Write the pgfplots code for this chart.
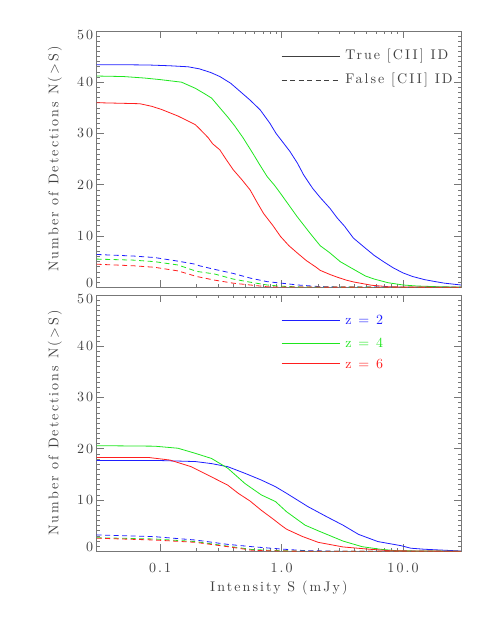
\documentclass[border=0pt]{standalone}
\usepackage{fontspec}
\setmainfont{lmroman10-regular.otf}[LetterSpace=15]
\usepackage{pgfplots}
\pgfplotsset{compat=1.18}
\definecolor{txt}{HTML}{404040}
\definecolor{frame}{HTML}{777777}
\definecolor{zb}{HTML}{1E1EFF}
\definecolor{zg}{HTML}{1EE61E}
\definecolor{zr}{HTML}{FF1E1E}
\tikzset{fls/.style={dash pattern=on 5pt off 3.5pt},
  key/.style={anchor=west, inner sep=0pt, xshift=5.7pt}}

\pgfplotsset{/pgf/number format/assume math mode=true}

\begin{document}
\begin{tikzpicture}[font=\fontsize{14}{16}\selectfont]
\path[use as bounding box] (0,0) rectangle (485pt,627pt);

% top panel: true and false identifications
\begin{axis}[at={(96.7pt,339.7pt)}, anchor=south west,
  scale only axis, width=364.3pt, height=256.4pt,
  xmode=log, xmin=0.03, xmax=30, ymin=0, ymax=50,
  ytick={0,10,...,50}, minor y tick num=9,
  yticklabels={\raisebox{4pt}[0.65em][0pt]{0},10,20,30,40,\raisebox{-4pt}[0.65em][0pt]{50}},
  xtick={0.1,1,10}, xticklabels=\empty,
  tick align=inside, tick pos=both, ticklabel pos=left,
  major tick length=7pt, minor tick length=3.5pt,
  axis line style={frame, line width=0.8pt},
  every tick/.style={frame, line width=0.6pt},
  tick label style={text=txt},
  label style={text=txt},
  ylabel={Number of Detections N(>S)},
  ylabel style={at={(axis description cs:-0.1145,0.5)}, anchor=center}]

\addplot[zb, line width=0.8pt] coordinates {(0.03,43.4)(0.05,43.4)(0.08,43.35)(0.12,43.2)(0.17,43.0)(0.21,42.6)(0.26,41.9)(0.31,41.1)(0.38,39.8)(0.455,38.2)(0.55,36.5)(0.666,34.6)(0.8,32.0)(0.9,30.0)(1.0,28.6)(1.17,26.5)(1.35,24.2)(1.52,21.9)(1.8,19.3)(2.08,17.5)(2.5,15.4)(2.85,13.6)(3.3,11.9)(3.9,9.6)(4.8,7.8)(5.8,6.2)(7.0,4.9)(8.3,3.8)(10,2.8)(12,2.1)(15,1.5)(18,1.15)(22,0.8)(30,0.45)};
\addplot[zg, line width=0.8pt] coordinates {(0.03,41.2)(0.05,41.1)(0.075,40.8)(0.1,40.5)(0.15,40.0)(0.195,38.8)(0.23,37.8)(0.265,36.9)(0.31,35.0)(0.36,33.2)(0.41,31.5)(0.48,29.2)(0.58,26.1)(0.66,23.9)(0.76,21.6)(0.88,19.8)(0.98,18.3)(1.15,16.0)(1.34,13.8)(1.72,10.5)(2.08,8.1)(2.47,6.8)(3.04,5.0)(3.6,4.0)(4.2,3.1)(4.9,2.2)(5.8,1.6)(7.5,0.9)(10,0.45)(13,0.25)(20,0.1)(30,0.05)};
\addplot[zr, line width=0.8pt] coordinates {(0.03,36.0)(0.068,35.8)(0.085,35.3)(0.102,34.7)(0.14,33.4)(0.195,31.7)(0.213,30.8)(0.248,29.2)(0.27,28.0)(0.31,26.8)(0.35,24.9)(0.4,22.9)(0.47,21.0)(0.55,19.0)(0.63,16.5)(0.71,14.4)(0.85,12.0)(0.98,9.9)(1.15,8.1)(1.36,6.6)(1.6,5.2)(1.9,4.0)(2.08,3.3)(2.5,2.5)(2.85,2.0)(3.4,1.4)(3.9,1.05)(5.5,0.4)(7.5,0.12)(10,0.05)(30,0)};
\addplot[zb, line width=0.8pt, fls] coordinates {(0.03,6.4)(0.06,6.1)(0.09,5.8)(0.14,5.1)(0.195,4.5)(0.21,4.2)(0.28,3.5)(0.4,2.7)(0.55,1.8)(0.76,1.1)(1.0,0.8)(1.36,0.45)(2,0.15)(3,0.05)(30,0)};
\addplot[zg, line width=0.8pt, fls] coordinates {(0.03,5.5)(0.06,5.3)(0.09,5.0)(0.14,4.35)(0.2,3.1)(0.28,2.6)(0.4,1.6)(0.55,1.0)(0.76,0.45)(1.0,0.2)(1.5,0.05)(30,0)};
\addplot[zr, line width=0.8pt, fls] coordinates {(0.03,4.5)(0.06,4.2)(0.09,3.9)(0.14,3.2)(0.2,2.1)(0.28,1.4)(0.4,0.8)(0.76,0.1)(1.0,0.05)(30,0)};

% key
\addplot[txt, line width=0.8pt] coordinates {(1,45.1)(3,45.1)};
\addplot[txt, line width=0.8pt, fls] coordinates {(1,40.4)(3,40.4)};
\addplot[white, draw opacity=0] coordinates {(1,45.1)(1.01,45.1)};
\node[key, text=txt] at (axis cs:3,45.1) {True [CII] ID};
\node[key, text=txt] at (axis cs:3,40.4) {False [CII] ID};
\end{axis}

% bottom panel: by redshift
\begin{axis}[at={(96.7pt,75.7pt)}, anchor=south west,
  scale only axis, width=364.3pt, height=256.4pt,
  xmode=log, xmin=0.03, xmax=30, ymin=0, ymax=50,
  ytick={0,10,...,50}, minor y tick num=9,
  yticklabels={\raisebox{4pt}[0.65em][0pt]{0},10,20,30,40,\raisebox{-4pt}[0.65em][0pt]{50}},
  xtick={0.1,1,10}, xticklabels={0.1,1.0,10.0},
  xticklabel style={yshift=-8pt},
  tick align=inside, tick pos=both, ticklabel pos=left,
  major tick length=7pt, minor tick length=3.5pt,
  axis line style={frame, line width=0.8pt},
  every tick/.style={frame, line width=0.6pt},
  tick label style={text=txt},
  label style={text=txt},
  ylabel={Number of Detections N(>S)},
  ylabel style={at={(axis description cs:-0.1145,0.5)}, anchor=center},
  xlabel={Intensity S (mJy)},
  xlabel style={at={(axis description cs:0.5,-0.145)}, anchor=center}]

\addplot[zb, line width=0.8pt] coordinates {(0.03,17.7)(0.1,17.7)(0.195,17.5)(0.265,17.1)(0.36,16.5)(0.5,15.2)(0.68,13.9)(0.89,12.6)(1.1,11.3)(1.65,8.7)(2.37,6.7)(3.2,5.1)(4.3,3.3)(6.2,1.9)(9.6,1.1)(11.6,0.6)(15,0.4)(30,0.05)};
\addplot[zg, line width=0.8pt] coordinates {(0.03,20.6)(0.09,20.5)(0.14,20.1)(0.195,19.1)(0.265,18.1)(0.36,16.2)(0.5,13.2)(0.68,11.0)(0.89,9.7)(1.1,7.7)(1.56,5.1)(2.0,4.0)(3.2,2.0)(4.6,0.9)(6.5,0.4)(9,0.1)(30,0)};
\addplot[zr, line width=0.8pt] coordinates {(0.03,18.3)(0.08,18.3)(0.12,17.8)(0.18,16.5)(0.265,14.5)(0.36,12.9)(0.44,11.3)(0.55,9.8)(0.68,8.0)(0.85,6.3)(1.0,5.0)(1.1,4.3)(1.48,2.9)(2.0,1.75)(3.2,0.85)(5.3,0.4)(8,0.1)(30,0)};
\addplot[zb, line width=0.8pt, fls] coordinates {(0.03,3.2)(0.09,2.85)(0.195,2.2)(0.36,1.35)(0.57,0.9)(0.98,0.45)(1.5,0.15)(3,0)(30,0)};
\addplot[zg, line width=0.8pt, fls] coordinates {(0.03,2.65)(0.09,2.4)(0.195,1.9)(0.36,1.0)(0.57,0.35)(1.0,0.1)(2,0)(30,0)};
\addplot[zr, line width=0.8pt, fls] coordinates {(0.03,2.55)(0.09,2.2)(0.195,1.75)(0.36,0.9)(0.57,0.2)(1.0,0.05)(2,0)(30,0)};

% key
\addplot[zb, line width=0.8pt] coordinates {(1,45.1)(3,45.1)};
\addplot[zg, line width=0.8pt] coordinates {(1,40.6)(3,40.6)};
\addplot[zr, line width=0.8pt] coordinates {(1,36.6)(3,36.6)};
\addplot[white, draw opacity=0] coordinates {(1,45.1)(1.01,45.1)};
\node[key, text=zb] at (axis cs:3,45.1) {z = 2};
\node[key, text=zg] at (axis cs:3,40.6) {z = 4};
\node[key, text=zr] at (axis cs:3,36.6) {z = 6};
\end{axis}
\end{tikzpicture}
\end{document}
